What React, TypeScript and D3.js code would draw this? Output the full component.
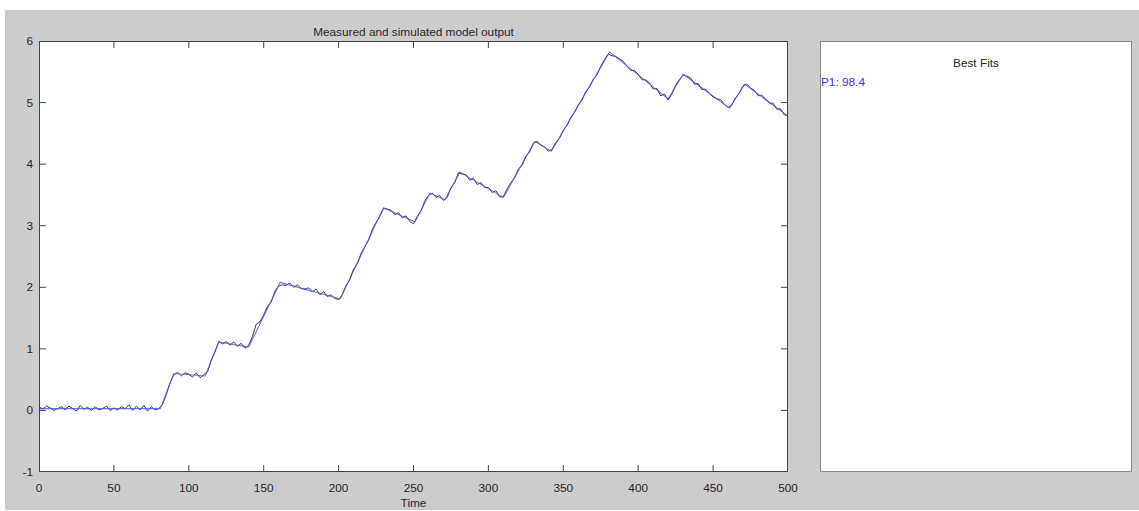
import * as d3 from "d3";

// simulated model output: breakpoints of the piecewise-linear response
const simTime = [0, 81, 90, 111, 120, 140, 161, 201, 230, 251, 261, 271, 281, 310, 331, 342, 381, 420, 430, 461, 471, 500];
const simValue = [0.03, 0.03, 0.6, 0.56, 1.11, 1.03, 2.08, 1.81, 3.29, 3.06, 3.53, 3.42, 3.87, 3.46, 4.37, 4.21, 5.82, 5.06, 5.46, 4.91, 5.3, 4.78];

// measured output, sampled every 2.5 time units from t = 0
const measuredStep = 2.5;
const measured = [
  0.06, 0.02, 0.07, 0.04, 0.0, 0.03, 0.06, 0.01, 0.07, 0.03,
  -0.01, 0.08, 0.02, 0.05, 0.0, 0.06, 0.01, 0.03, 0.07, 0.0,
  0.04, 0.01, 0.06, 0.03, 0.09, 0.0, 0.07, 0.01, 0.08, -0.01,
  0.06, 0.01, 0.03, 0.1, 0.26, 0.45, 0.58, 0.62, 0.56, 0.61,
  0.59, 0.54, 0.61, 0.53, 0.58, 0.63, 0.82, 0.95, 1.12, 1.08,
  1.12, 1.06, 1.11, 1.04, 1.09, 1.01, 1.06, 1.2, 1.4, 1.44,
  1.55, 1.69, 1.76, 1.94, 2.02, 2.04, 2.03, 2.07, 2.0, 2.04,
  1.98, 1.97, 1.99, 1.93, 1.97, 1.88, 1.93, 1.85, 1.88, 1.82,
  1.8, 1.88, 2.03, 2.12, 2.3, 2.38, 2.55, 2.66, 2.76, 2.94,
  3.05, 3.15, 3.28, 3.27, 3.25, 3.18, 3.21, 3.13, 3.16, 3.07,
  3.03, 3.15, 3.24, 3.4, 3.49, 3.53, 3.46, 3.49, 3.41, 3.46,
  3.62, 3.7, 3.86, 3.84, 3.83, 3.74, 3.77, 3.67, 3.7, 3.62,
  3.62, 3.54, 3.57, 3.47, 3.47, 3.6, 3.7, 3.78, 3.92, 3.98,
  4.13, 4.2, 4.34, 4.37, 4.31, 4.28, 4.21, 4.24, 4.35, 4.42,
  4.55, 4.63, 4.76, 4.84, 4.96, 5.04, 5.18, 5.25, 5.38, 5.45,
  5.59, 5.7, 5.79, 5.76, 5.75, 5.71, 5.67, 5.59, 5.52, 5.52,
  5.46, 5.37, 5.37, 5.32, 5.22, 5.23, 5.11, 5.14, 5.04, 5.14,
  5.28, 5.37, 5.45, 5.43, 5.4, 5.3, 5.31, 5.21, 5.22, 5.15,
  5.09, 5.06, 5.05, 4.97, 4.92, 4.96, 5.08, 5.15, 5.27, 5.3,
  5.24, 5.2, 5.11, 5.12, 5.06, 4.99, 4.99, 4.89, 4.9, 4.8,
  4.79,
];

const xTicks = [0, 50, 100, 150, 200, 250, 300, 350, 400, 450, 500];
const yTicks = [-1, 0, 1, 2, 3, 4, 5, 6];
const fits = ["P1: 98.4"];

const W = 1139, H = 511;
const ax = { left: 39, top: 41, right: 788, bottom: 472 };
const panel = { left: 820, top: 41, right: 1132, bottom: 472 };
const font = "'Liberation Sans', Arial, Helvetica, sans-serif";
const fs = 11.8;
const textCol = "#262626";

export default function App() {
  const x = d3.scaleLinear().domain([0, 500]).range([ax.left, ax.right]);
  const y = d3.scaleLinear().domain([-1, 6]).range([ax.bottom, ax.top]);

  const lineGen = d3.line<[number, number]>().x((d) => x(d[0])).y((d) => y(d[1]));
  const simPath = lineGen(simTime.map((t, i) => [t, simValue[i]] as [number, number])) ?? "";
  const measPath = lineGen(measured.map((v, i) => [i * measuredStep, v] as [number, number])) ?? "";

  const tickLen = 7;

  return (
    <div style={{ position: "absolute", left: 0, top: 0 }}>
      <svg width={W} height={H} style={{ display: "block" }}>
        <rect x={0} y={0} width={W} height={H} fill="#ffffff" />
        <rect x={5} y={10} width={W - 5} height={500} fill="#cccccc" />

        {/* main axes */}
        <rect x={ax.left} y={ax.top} width={ax.right - ax.left} height={ax.bottom - ax.top} fill="#ffffff" />
        <defs>
          <clipPath id="plotClip">
            <rect x={ax.left} y={ax.top} width={ax.right - ax.left} height={ax.bottom - ax.top} />
          </clipPath>
        </defs>
        <g clipPath="url(#plotClip)">
          <path d={measPath} fill="none" stroke="#3a3a3a" strokeWidth={1} strokeLinejoin="round" />
          <path d={simPath} fill="none" stroke="#4f4fee" strokeOpacity={0.8} strokeWidth={1.1} strokeLinejoin="round" />
        </g>
        <rect x={ax.left + 0.5} y={ax.top + 0.5} width={ax.right - ax.left - 1} height={ax.bottom - ax.top - 1}
          fill="none" stroke="#444444" strokeWidth={1} />

        {xTicks.map((t) => (
          <g key={`x${t}`}>
            {t > 0 && t < 500 && (
              <>
                <line x1={x(t)} x2={x(t)} y1={ax.bottom} y2={ax.bottom - tickLen} stroke="#444444" />
                <line x1={x(t)} x2={x(t)} y1={ax.top} y2={ax.top + tickLen} stroke="#444444" />
              </>
            )}
            <text x={x(t)} y={488} fill={textCol} fontSize={fs} fontFamily={font} textAnchor="middle" dominantBaseline="central">
              {t}
            </text>
          </g>
        ))}
        {yTicks.map((t) => (
          <g key={`y${t}`}>
            {t > -1 && t < 6 && (
              <>
                <line x1={ax.left} x2={ax.left + tickLen} y1={y(t)} y2={y(t)} stroke="#444444" />
                <line x1={ax.right} x2={ax.right - tickLen} y1={y(t)} y2={y(t)} stroke="#444444" />
              </>
            )}
            <text x={33} y={y(t)} fill={textCol} fontSize={fs} fontFamily={font} textAnchor="end" dominantBaseline="central">
              {t}
            </text>
          </g>
        ))}

        <text x={(ax.left + ax.right) / 2} y={32} fill={textCol} fontSize={fs} fontFamily={font} textAnchor="middle" dominantBaseline="central">
          Measured and simulated model output
        </text>
        <text x={(ax.left + ax.right) / 2} y={503} fill={textCol} fontSize={fs} fontFamily={font} textAnchor="middle" dominantBaseline="central">
          Time
        </text>

        {/* best fits panel */}
        <rect x={panel.left + 0.5} y={panel.top + 0.5} width={panel.right - panel.left - 1} height={panel.bottom - panel.top - 1}
          fill="#ffffff" stroke="#888888" strokeWidth={1} />
        <text x={(panel.left + panel.right) / 2} y={63} fill={textCol} fontSize={fs} fontFamily={font} textAnchor="middle" dominantBaseline="central">
          Best Fits
        </text>
        {fits.map((f, i) => (
          <text key={f} x={panel.left + 1} y={82 + i * 14} fill="#3333ff" fontSize={fs} fontFamily={font} textAnchor="start" dominantBaseline="central">
            {f}
          </text>
        ))}
      </svg>
    </div>
  );
}
